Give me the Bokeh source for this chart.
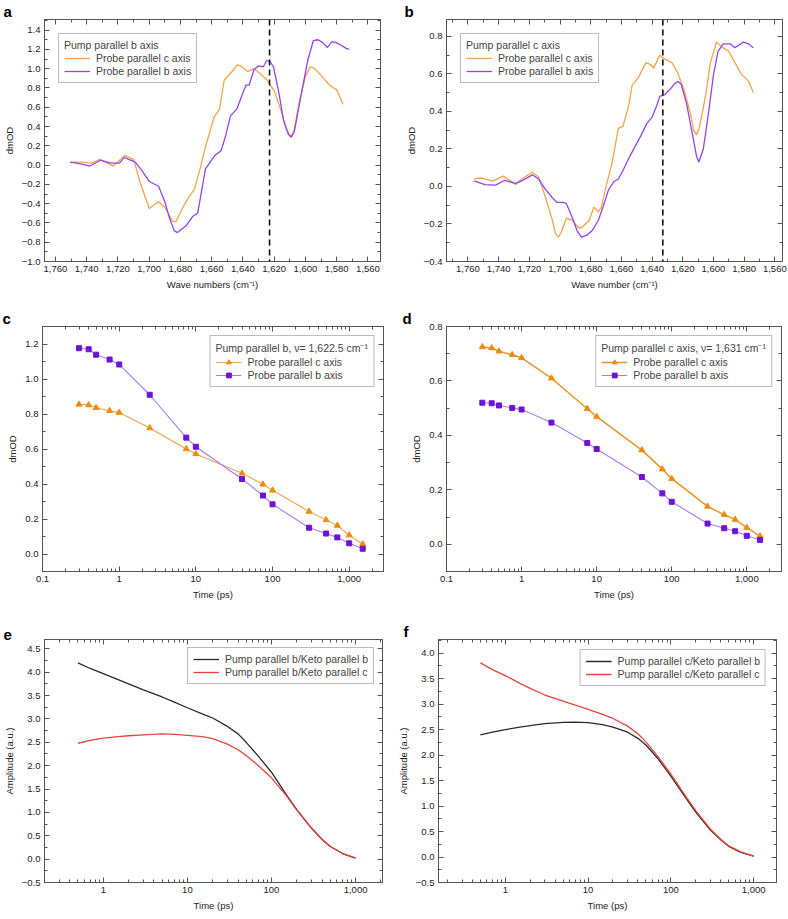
from bokeh.plotting import figure
from bokeh.models import (Range1d, LinearAxis, LogAxis, SingleIntervalTicker, LogTicker,
                          NumeralTickFormatter, CustomJSTickFormatter, Legend, LegendItem, Span)
from bokeh.layouts import column, row
from bokeh.embed import file_html
from bokeh.resources import INLINE

FONT = "Liberation Sans"

# ---------------- data ----------------
# panel a: pump parallel b axis
wn_a_c = [1750.5, 1743, 1737, 1731.4, 1723, 1715.6, 1710, 1706, 1700, 1694, 1690, 1685, 1683,
          1678.5, 1675, 1671, 1667, 1664, 1658.4, 1655, 1652, 1648, 1643.6, 1641.5, 1637, 1633,
          1629, 1624.5, 1620, 1616, 1612, 1609.5, 1607.5, 1604, 1600, 1597, 1594, 1589.6, 1584,
          1580, 1576]
val_a_c = [0.03, 0.03, 0.02, 0.06, -0.01, 0.10, 0.06, -0.17, -0.45, -0.38, -0.44, -0.58, -0.59,
           -0.44, -0.34, -0.25, -0.01, 0.19, 0.50, 0.58, 0.88, 0.95, 1.04, 1.03, 0.97, 1.00,
           0.95, 0.88, 0.77, 0.58, 0.37, 0.29, 0.34, 0.65, 0.92, 1.02, 1.00, 0.92, 0.82,
           0.78, 0.63]
wn_a_b = [1750.5, 1743, 1738, 1731, 1724, 1719, 1716, 1709, 1705, 1700, 1694, 1690, 1687, 1684,
          1682, 1676.4, 1672, 1669, 1664, 1658, 1654, 1651, 1648, 1644, 1640, 1638, 1636, 1633,
          1630, 1627, 1625, 1623, 1620.5, 1617, 1614, 1611, 1609, 1607, 1603, 1598.5, 1595,
          1592, 1589, 1586, 1583, 1580.5, 1578, 1574, 1572]
val_a_b = [0.03, 0.01, -0.01, 0.05, 0.02, 0.02, 0.08, 0.03, -0.05, -0.17, -0.22, -0.38, -0.55,
           -0.68, -0.70, -0.63, -0.53, -0.50, -0.04, 0.10, 0.15, 0.31, 0.51, 0.58, 0.75, 0.83,
           0.83, 0.99, 1.03, 1.02, 1.08, 1.08, 1.02, 0.75, 0.46, 0.32, 0.29, 0.36, 0.71, 1.09,
           1.29, 1.30, 1.27, 1.22, 1.28, 1.27, 1.25, 1.21, 1.20]
dash_a = 1623.0

# panel b: pump parallel c axis
wn_b_c = [1756, 1751, 1744, 1737, 1729, 1725, 1718, 1714, 1710, 1705, 1703, 1701, 1699, 1696,
          1692, 1688, 1686, 1681, 1678, 1675, 1673, 1670, 1666, 1662, 1659, 1655, 1653, 1649,
          1644, 1641, 1639, 1635, 1632, 1627, 1623, 1619, 1615, 1613, 1611, 1609, 1605, 1602,
          1598, 1594, 1590, 1586, 1582, 1577, 1574]
val_b_c = [0.042, 0.045, 0.028, 0.055, 0.01, 0.04, 0.076, 0.05, -0.045, -0.18, -0.25, -0.27,
           -0.24, -0.17, -0.18, -0.22, -0.22, -0.18, -0.11, -0.135, -0.11, 0.0, 0.13, 0.31,
           0.32, 0.44, 0.54, 0.58, 0.66, 0.65, 0.63, 0.70, 0.68, 0.66, 0.60, 0.51, 0.39, 0.30,
           0.275, 0.32, 0.49, 0.66, 0.77, 0.74, 0.72, 0.66, 0.60, 0.56, 0.50]
wn_b_b = [1756, 1749, 1742, 1736, 1729, 1725, 1718, 1714, 1710, 1705, 1702, 1698, 1696, 1692,
          1689, 1686, 1682.5, 1679, 1675, 1672, 1668.5, 1665, 1662, 1659, 1655.5, 1651, 1647,
          1643.5, 1640, 1637, 1635, 1631.6, 1628, 1625, 1623, 1621, 1617.5, 1614, 1611, 1609.5,
          1606.6, 1603, 1600, 1597, 1593.6, 1589, 1586, 1584, 1580.6, 1577, 1574]
val_b_b = [0.03, 0.01, 0.007, 0.033, 0.016, 0.03, 0.062, 0.04, -0.01, -0.06, -0.085, -0.085,
           -0.09, -0.165, -0.235, -0.27, -0.26, -0.235, -0.18, -0.11, -0.02, 0.025, 0.04,
           0.085, 0.145, 0.215, 0.275, 0.335, 0.37, 0.43, 0.48, 0.49, 0.52, 0.55, 0.56, 0.545,
           0.44, 0.29, 0.16, 0.13, 0.20, 0.405, 0.595, 0.72, 0.76, 0.76, 0.74, 0.75, 0.77,
           0.76, 0.74]
dash_b = 1633.0

# panels c, d: kinetics
t_cd = [0.3, 0.4, 0.5, 0.75, 1, 2.5, 7.5, 10, 40, 75, 100, 300, 500, 700, 1000, 1500]
c_probe_c = [0.855, 0.851, 0.836, 0.819, 0.808, 0.72, 0.60, 0.572, 0.461, 0.398, 0.364, 0.243,
             0.195, 0.163, 0.108, 0.056]
c_probe_b = [1.176, 1.17, 1.139, 1.111, 1.083, 0.91, 0.665, 0.613, 0.429, 0.334, 0.284, 0.15,
             0.117, 0.095, 0.061, 0.03]
d_probe_c = [0.725, 0.721, 0.709, 0.696, 0.685, 0.61, 0.498, 0.469, 0.346, 0.276, 0.241, 0.139,
             0.109, 0.091, 0.061, 0.030]
d_probe_b = [0.52, 0.518, 0.51, 0.501, 0.495, 0.447, 0.372, 0.35, 0.247, 0.187, 0.156, 0.076,
             0.059, 0.048, 0.031, 0.016]

# panels e, f: amplitudes
t_ef = [0.5, 0.7, 1, 1.5, 2, 3, 5, 7, 10, 15, 20, 30, 40, 50, 70, 100, 150, 200, 300, 400, 500,
        700, 1000]
e_keto_b = [4.20, 4.08, 3.97, 3.84, 3.75, 3.62, 3.47, 3.36, 3.24, 3.11, 3.02, 2.84, 2.68, 2.50,
            2.20, 1.86, 1.38, 1.06, 0.66, 0.42, 0.27, 0.12, 0.02]
e_keto_c = [2.48, 2.54, 2.59, 2.62, 2.64, 2.66, 2.68, 2.67, 2.65, 2.62, 2.58, 2.46, 2.34, 2.22,
            2.00, 1.74, 1.36, 1.05, 0.66, 0.42, 0.27, 0.12, 0.02]
f_keto_b = [2.40, 2.45, 2.50, 2.55, 2.58, 2.62, 2.645, 2.65, 2.64, 2.60, 2.55, 2.45, 2.33, 2.20,
            1.93, 1.59, 1.17, 0.88, 0.53, 0.34, 0.21, 0.09, 0.02]
f_keto_c = [3.81, 3.68, 3.56, 3.41, 3.31, 3.18, 3.06, 2.98, 2.90, 2.80, 2.72, 2.57, 2.42, 2.26,
            1.97, 1.63, 1.20, 0.91, 0.55, 0.35, 0.22, 0.10, 0.02]

# ---------------- styling ----------------
ORANGE = "#F4A24C"
PURPLE = "#9443F0"
ORANGE_M = "#F08A10"
PURPLE_M = "#6E12D8"
PURPLE_L = "#A87CF2"
BLACK = "#2a2a2a"
RED = "#E8433E"
FRAME = "#555555"
TXT = "#222222"

Y_CODE = """
var v = Math.abs(tick) < 1e-9 ? 0 : tick;
return v.toFixed(1).replace('-', '\\u2212');
"""
LOG_CODE = """
if (tick >= 1) { return Math.round(tick).toString().replace(/\\B(?=(\\d{3})+(?!\\d))/g, ','); }
return String(Math.round(tick*1000)/1000);
"""


def style_axis(ax, label=None):
    ax.axis_line_color = FRAME
    ax.major_tick_line_color = FRAME
    ax.minor_tick_line_color = FRAME
    ax.major_tick_in = 5
    ax.major_tick_out = 0
    ax.minor_tick_in = 3
    ax.minor_tick_out = 0
    ax.major_label_text_font = FONT
    ax.major_label_text_font_size = "9.5px"
    ax.major_label_text_color = TXT
    ax.major_label_standoff = 4
    ax.axis_label_text_font = FONT
    ax.axis_label_text_font_size = "9.5px"
    ax.axis_label_text_font_style = "normal"
    ax.axis_label_text_color = TXT
    ax.axis_label_standoff = 4
    if label is not None:
        ax.axis_label = label


def mirror_axis(ax):
    style_axis(ax)
    ax.major_label_text_font_size = "0px"
    ax.major_label_standoff = 0


def make_fig(w, h, borders, xr, yr, log_x, x_int, y_int, xlabel, ylabel, letter, loff):
    left, right, top, bottom = borders
    p = figure(width=w, height=h, x_range=Range1d(*xr), y_range=Range1d(*yr),
               x_axis_type="log" if log_x else "linear",
               output_backend="svg", toolbar_location=None,
               min_border_left=left, min_border_right=right,
               min_border_top=top, min_border_bottom=bottom)
    p.grid.visible = False
    p.outline_line_color = FRAME
    if log_x:
        xtick = LogTicker(num_minor_ticks=10)
        xfmt = CustomJSTickFormatter(code=LOG_CODE)
    else:
        xtick = SingleIntervalTicker(interval=x_int, num_minor_ticks=2)
        xfmt = NumeralTickFormatter(format="0,0")
    ytick = SingleIntervalTicker(interval=y_int, num_minor_ticks=2)
    yfmt = CustomJSTickFormatter(code=Y_CODE)
    p.xaxis.ticker = xtick
    p.xaxis.formatter = xfmt
    p.yaxis.ticker = ytick
    p.yaxis.formatter = yfmt
    style_axis(p.xaxis[0], xlabel)
    style_axis(p.yaxis[0], ylabel)
    top_ax = (LogAxis if log_x else LinearAxis)(ticker=xtick, formatter=xfmt)
    right_ax = LinearAxis(ticker=ytick, formatter=yfmt)
    mirror_axis(top_ax)
    mirror_axis(right_ax)
    p.add_layout(top_ax, "above")
    p.add_layout(right_ax, "right")
    # panel letter as the figure title, pulled to the left edge
    p.title.text = letter
    p.title.text_font = FONT
    p.title.text_font_size = "15px"
    p.title.text_font_style = "bold"
    p.title.text_color = "black"
    p.title.align = "left"
    p.title.standoff = 0
    p.title.offset = -loff
    return p


def make_legend(p, items, title=None, location="top_left", margin=12):
    lg = Legend(items=items, location=location, margin=margin)
    if title:
        lg.title = title
        lg.title_text_font = FONT
        lg.title_text_font_size = "10.5px"
        lg.title_text_font_style = "normal"
        lg.title_standoff = 1
    lg.label_text_font = FONT
    lg.label_text_font_size = "10.5px"
    lg.label_height = 12
    lg.glyph_height = 12
    lg.glyph_width = 26
    lg.label_standoff = 6
    lg.spacing = 1
    lg.padding = 5
    lg.border_line_color = "#777777"
    lg.border_line_width = 1
    lg.background_fill_alpha = 1
    p.add_layout(lg)
    return lg


W = 394

# ---- a ----
pa = make_fig(W, 296, (42, 14, 15, 35), (1767, 1552), (-1.0, 1.51), False, 20, 0.2,
              "Wave numbers (cm\u207b\u00b9)", "dmOD", "a", 41)
ra1 = pa.line(wn_a_c, val_a_c, line_color=ORANGE, line_width=1.3)
ra2 = pa.line(wn_a_b, val_a_b, line_color=PURPLE, line_width=1.3)
pa.add_layout(Span(location=dash_a, dimension="height", line_color="black",
                   line_width=1.5, line_dash="6 4"))
make_legend(pa, [LegendItem(label="Probe parallel c axis", renderers=[ra1]),
                 LegendItem(label="Probe parallel b axis", renderers=[ra2])],
            title="Pump parallel b axis", location="top_left", margin=14)

# ---- b ----
pb = make_fig(W, 296, (52, 6, 15, 35), (1774, 1555), (-0.4, 0.89), False, 20, 0.2,
              "Wave number (cm\u207b\u00b9)", "dmOD", "b", 42)
rb1 = pb.line(wn_b_c, val_b_c, line_color=ORANGE, line_width=1.3)
rb2 = pb.line(wn_b_b, val_b_b, line_color=PURPLE, line_width=1.3)
pb.add_layout(Span(location=dash_b, dimension="height", line_color="black",
                   line_width=1.5, line_dash="6 4"))
make_legend(pb, [LegendItem(label="Probe parallel c axis", renderers=[rb1]),
                 LegendItem(label="Probe parallel b axis", renderers=[rb2])],
            title="Pump parallel c axis", location="top_left", margin=14)

# ---- c ----
pc = make_fig(W, 308, (42, 11, 30, 33), (0.1, 2800), (-0.1, 1.3), True, None, 0.2,
              "Time (ps)", "dmOD", "c", 40)
lc1 = pc.line(t_cd, c_probe_c, line_color=ORANGE, line_width=1.1)
sc1 = pc.scatter(t_cd, c_probe_c, marker="triangle", size=6, fill_color=ORANGE_M,
                 line_color=ORANGE_M)
lc2 = pc.line(t_cd, c_probe_b, line_color=PURPLE_L, line_width=1.1)
sc2 = pc.scatter(t_cd, c_probe_b, marker="square", size=5, fill_color=PURPLE_M,
                 line_color=PURPLE_M)
make_legend(pc, [LegendItem(label="Probe parallel c axis", renderers=[lc1, sc1]),
                 LegendItem(label="Probe parallel b axis", renderers=[lc2, sc2])],
            title="Pump parallel b, \u03bd= 1,622.5 cm\u207b\u00b9", location="top_right",
            margin=9)

# ---- d ----
pd_ = make_fig(W, 308, (52, 7, 30, 33), (0.1, 2900), (-0.1, 0.8), True, None, 0.2,
               "Time (ps)", "dmOD", "d", 44)
ld1 = pd_.line(t_cd, d_probe_c, line_color="#F0922A", line_width=1.5)
sd1 = pd_.scatter(t_cd, d_probe_c, marker="triangle", size=6, fill_color=ORANGE_M,
                  line_color=ORANGE_M)
ld2 = pd_.line(t_cd, d_probe_b, line_color=PURPLE_L, line_width=1.1)
sd2 = pd_.scatter(t_cd, d_probe_b, marker="square", size=5, fill_color=PURPLE_M,
                  line_color=PURPLE_M)
make_legend(pd_, [LegendItem(label="Probe parallel c axis", renderers=[ld1, sd1]),
                  LegendItem(label="Probe parallel b axis", renderers=[ld2, sd2])],
            title="Pump parallel c axis, \u03bd= 1,631 cm\u207b\u00b9", location="top_right",
            margin=9)

# ---- e ----
pe = make_fig(W, 310, (43, 12, 35, 32), (0.2, 2090), (-0.5, 4.7), True, None, 0.5,
              "Time (ps)", "Amplitude (a.u.)", "e", 41)
re1 = pe.line(t_ef, e_keto_b, line_color=BLACK, line_width=1.3)
re2 = pe.line(t_ef, e_keto_c, line_color=RED, line_width=1.3)
make_legend(pe, [LegendItem(label="Pump parallel b/Keto parallel b", renderers=[re1]),
                 LegendItem(label="Pump parallel b/Keto parallel c", renderers=[re2])],
            location="top_right", margin=8)

# ---- f ----
pf = make_fig(W, 310, (43, 12, 35, 32), (0.156, 1890), (-0.5, 4.27), True, None, 0.5,
              "Time (ps)", "Amplitude (a.u.)", "f", 35)
rf1 = pf.line(t_ef, f_keto_b, line_color=BLACK, line_width=1.3)
rf2 = pf.line(t_ef, f_keto_c, line_color=RED, line_width=1.3)
make_legend(pf, [LegendItem(label="Pump parallel c/Keto parallel b", renderers=[rf1]),
                 LegendItem(label="Pump parallel c/Keto parallel c", renderers=[rf2])],
            location="top_right", margin=10)

layout = column(row(pa, pb), row(pc, pd_), row(pe, pf))
open("out.html", "w").write(file_html(layout, INLINE))
